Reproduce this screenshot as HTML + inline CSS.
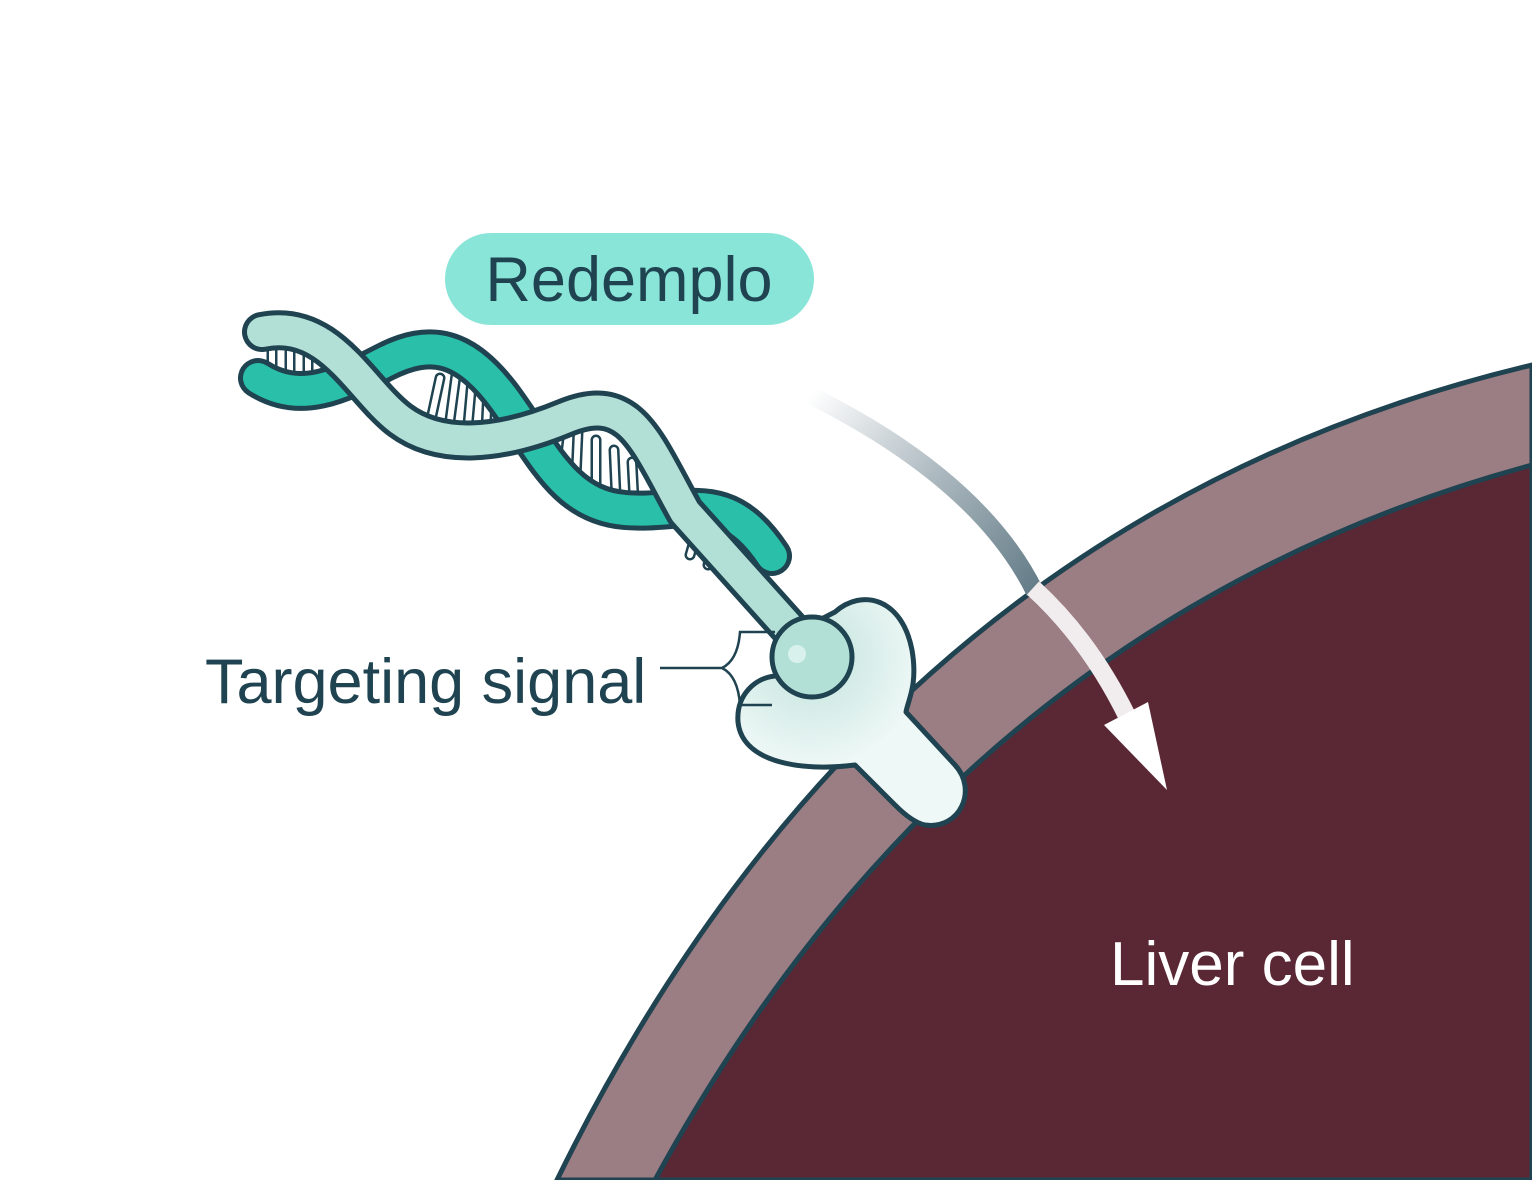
<!DOCTYPE html>
<html><head><meta charset="utf-8"><style>
html,body{margin:0;padding:0;background:#fff;}
svg{display:block;}
text{font-family:"Liberation Sans",sans-serif;}
</style></head><body>
<svg width="1532" height="1180" viewBox="0 0 1532 1180" xmlns="http://www.w3.org/2000/svg">
<defs>
<linearGradient id="ag" x1="810" y1="395" x2="1040" y2="600" gradientUnits="userSpaceOnUse">
<stop offset="0" stop-color="#ffffff"/><stop offset="0.5" stop-color="#a9b6bd"/><stop offset="1" stop-color="#5f7884"/>
</linearGradient>
<radialGradient id="glow" cx="812" cy="657" r="110" gradientUnits="userSpaceOnUse">
<stop offset="0.3" stop-color="#cfe9e4"/><stop offset="1" stop-color="#eef8f6"/>
</radialGradient>
</defs>
<path d="M557,1180 Q880,520 1532,365 L1532,1180 Z" fill="#9b7d84" stroke="#1f4350" stroke-width="5"/>
<path d="M655,1180 Q960,620 1532,465 L1532,1180 Z" fill="#5a2734" stroke="#1f4350" stroke-width="5"/>
<path d="M810,395 Q980,480 1035,592" fill="none" stroke="url(#ag)" stroke-width="18"/>
<path d="M1033,588 Q1090,640 1128,718" fill="none" stroke="#f1ecee" stroke-width="18"/>
<polygon points="1104,725 1148,702 1167,790" fill="#fff"/>
<path d="M835,612 C862,588 902,598 912,650 C918,685 908,700 906,712 L955,765 C978,790 960,830 925,825 C915,823 905,815 895,805 L855,765 C800,772 742,762 738,722 C736,695 755,678 775,676 L800,630 Z" fill="url(#glow)" stroke="#1f4350" stroke-width="5" stroke-linejoin="round"/>
<g stroke="#1f4350" stroke-width="11" stroke-linecap="round">
<path d="M272,345 L272,378 M290,343 L290,385 M308,342 L308,390 M326,345 L326,392 M344,352 L340,388 M440,378 L432,415 M456,375 L450,420 M472,380 L468,425 M488,388 L486,430 M560,430 L555,470 M578,432 L576,478 M596,440 L596,488 M614,450 L616,495 M632,462 L634,500 M700,520 L690,555 M716,525 L708,565 M732,530 L726,575 M748,538 L744,580"/>
</g>
<g stroke="#ffffff" stroke-width="6" stroke-linecap="round">
<path d="M272,345 L272,378 M290,343 L290,385 M308,342 L308,390 M326,345 L326,392 M344,352 L340,388 M440,378 L432,415 M456,375 L450,420 M472,380 L468,425 M488,388 L486,430 M560,430 L555,470 M578,432 L576,478 M596,440 L596,488 M614,450 L616,495 M632,462 L634,500 M700,520 L690,555 M716,525 L708,565 M732,530 L726,575 M748,538 L744,580"/>
</g>
<path d="M258,378 C300,405 340,385 385,362 S465,345 505,400 S565,505 625,510 S725,485 772,556" fill="none" stroke="#1f4350" stroke-width="40" stroke-linecap="round"/>
<path d="M258,378 C300,405 340,385 385,362 S465,345 505,400 S565,505 625,510 S725,485 772,556" fill="none" stroke="#2abfa8" stroke-width="30" stroke-linecap="round"/>
<path d="M262,332 C330,318 360,390 400,420 S500,445 565,418 S645,440 685,512 L800,640" fill="none" stroke="#1f4350" stroke-width="40" stroke-linecap="round" stroke-linejoin="round"/>
<path d="M262,332 C330,318 360,390 400,420 S500,445 565,418 S645,440 685,512 L800,640" fill="none" stroke="#b2e0d6" stroke-width="30" stroke-linecap="round" stroke-linejoin="round"/>
<circle cx="812" cy="657" r="40" fill="#b2e0d6" stroke="#1f4350" stroke-width="5"/>
<circle cx="797" cy="654" r="9" fill="#d8f1ec"/>
<path d="M660,668 L722,668 Q738,660 740,632 L775,632 M722,668 Q738,676 740,705 L772,705" fill="none" stroke="#1f4350" stroke-width="2.5"/>
<rect x="445" y="233" width="369" height="92" rx="46" fill="#8ae5d9"/>
<text x="629" y="301" font-size="63" fill="#1f4350" text-anchor="middle">Redemplo</text>
<text x="205" y="703" font-size="63" fill="#1f4350">Targeting signal</text>
<text x="1110" y="985" font-size="62" fill="#ffffff">Liver cell</text>
</svg>
</body></html>
